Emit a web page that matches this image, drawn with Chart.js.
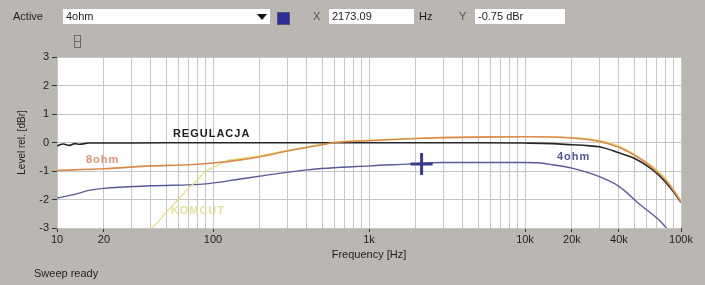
<!DOCTYPE html>
<html>
<head>
<meta charset="utf-8">
<script src="https://cdn.jsdelivr.net/npm/chart.js@4.4.1/dist/chart.umd.min.js"></script>
<style>
    html, body { margin: 0; padding: 0; }
    body {
        width: 705px; height: 285px; position: relative; overflow: hidden;
        background: #bab7b3; color: #1e1e1e;
        font-family: "Liberation Sans", Arial, sans-serif; font-size: 11px;
    }
    #freqChart { position: absolute; left: 0; top: 0; }
    .lbl { position: absolute; top: 9px; line-height: 15px; }
    .box {
        position: absolute; top: 9px; height: 15px; line-height: 15px;
        background: #fdfdfd; padding-left: 3px; box-sizing: border-box;
    }
    .arrow {
        position: absolute; left: 257px; top: 14px; width: 0; height: 0;
        border-left: 5px solid transparent; border-right: 5px solid transparent;
        border-top: 6px solid #111;
    }
    .swatch {
        position: absolute; left: 277px; top: 12px; width: 11px; height: 11px;
        background: #2d2d9c; border: 1px solid #55557a;
    }
    .icon {
        position: absolute; left: 74px; top: 35px; width: 5px; height: 11px;
        border: 1px solid #6a6a6a;
    }
    .icon::after {
        content: ""; position: absolute; left: 0; top: 5px; width: 5px; height: 1px; background: #6a6a6a;
    }
</style>
</head>
<body>
<canvas id="freqChart" width="705" height="285"></canvas>

<div class="lbl" style="left:13px">Active</div>
<div class="box" style="left:63px; width:207px">4ohm</div>
<div class="arrow"></div>
<div class="swatch"></div>
<div class="lbl" style="left:313px; color:#555">X</div>
<div class="box" style="left:329px; width:85px">2173.09</div>
<div class="lbl" style="left:419px">Hz</div>
<div class="lbl" style="left:459px; color:#555">Y</div>
<div class="box" style="left:475px; width:90px">-0.75 dBr</div>
<div class="icon"></div>
<div class="lbl" style="left:34px; top:266px">Sweep ready</div>

<script>
// REGULACJA (reference)
const blackFreq = [10, 11, 12, 13, 14, 16, 20, 50, 100, 500, 1000, 5000, 10000, 15000, 20000, 25000, 30000, 40000, 50000, 60000, 70000, 80000, 90000, 100000];
const blackLevel = [-0.12, -0.05, -0.1, -0.04, -0.06, -0.02, -0.02, -0.01, -0.01, -0.01, -0.01, -0.01, -0.02, -0.04, -0.08, -0.11, -0.15, -0.36, -0.55, -0.8, -1.08, -1.4, -1.75, -2.1];

// 8ohm
const orangeFreq = [10, 20, 40, 70, 100, 150, 200, 300, 500, 600, 1000, 2000, 3000, 5000, 10000, 20000, 30000, 40000, 50000, 60000, 70000, 80000, 90000, 100000];
const orangeLevel = [-0.98, -0.92, -0.82, -0.78, -0.72, -0.61, -0.5, -0.3, -0.08, 0.0, 0.06, 0.14, 0.17, 0.19, 0.2, 0.16, 0.04, -0.17, -0.44, -0.72, -1.02, -1.33, -1.7, -2.08];

// 4ohm
const blueFreq = [10, 13, 16, 20, 40, 90, 150, 200, 400, 1000, 1750, 3000, 10000, 12000, 15000, 20000, 30000, 40000, 55000, 74000, 85000];
const blueLevel = [-1.95, -1.82, -1.68, -1.61, -1.52, -1.45, -1.28, -1.18, -0.96, -0.82, -0.76, -0.7, -0.7, -0.71, -0.78, -0.9, -1.2, -1.54, -2.19, -2.77, -3.15];

// KOMCUT
const yellowFreq = [38, 45, 50, 60, 68, 80, 89, 100, 128, 150, 200, 300, 500, 600, 1000, 3000, 10000, 20000, 30000, 40000, 55000, 74000, 90000, 100000];
const yellowLevel = [-3.15, -2.75, -2.45, -2.0, -1.66, -1.3, -1.03, -0.88, -0.61, -0.56, -0.46, -0.27, -0.06, 0.02, 0.08, 0.18, 0.21, 0.18, 0.08, -0.12, -0.55, -1.07, -1.65, -2.05];

// cursor readout
const cursorFreq = [2173.09];
const cursorLevel = [-0.75];

// x tick labels
const xTickValues = [10, 20, 100, 1000, 10000, 20000, 40000, 100000];
const xTickNames = ["10", "20", "100", "1k", "10k", "20k", "40k", "100k"];

// curve name tags (x in Hz, y in dBr)
const curveTags = [
    { text: "REGULACJA", x: 98, y: 0.31, color: "#1e1e1e" },
    { text: "8ohm", x: 19.6, y: -0.61, color: "#e39372" },
    { text: "4ohm", x: 20500, y: -0.52, color: "#55559c" },
    { text: "KOMCUT", x: 80, y: -2.41, color: "#e4e29c" }
];

const toPoints = (xs, ys) => xs.map((f, i) => ({ x: f, y: ys[i] }));

// log grid: 1..9 in each decade
const gridValues = [];
for (let d = 10; d < 100000; d *= 10) {
    for (let m = 1; m < 10; m++) gridValues.push(d * m);
}
gridValues.push(100000);

const plotBg = {
    id: "plotBg",
    beforeDraw(chart) {
        const { ctx, chartArea: a } = chart;
        ctx.save();
        ctx.fillStyle = "#ffffff";
        ctx.fillRect(a.left, a.top, a.right - a.left, a.bottom - a.top);
        ctx.restore();
    }
};

const tags = {
    id: "tags",
    afterDatasetsDraw(chart) {
        const { ctx, scales } = chart;
        ctx.save();
        ctx.font = "bold 11px 'Liberation Sans', Arial, sans-serif";
        ctx.letterSpacing = "1px";
        ctx.textAlign = "center";
        ctx.textBaseline = "middle";
        curveTags.forEach(t => {
            ctx.fillStyle = t.color;
            ctx.fillText(t.text, scales.x.getPixelForValue(t.x), scales.y.getPixelForValue(t.y));
        });
        ctx.restore();
    }
};

const lineDefaults = { pointRadius: 0, fill: false, cubicInterpolationMode: "monotone" };

new Chart(document.getElementById("freqChart"), {
    type: "line",
    data: {
        datasets: [
            {
                label: "cursor", data: toPoints(cursorFreq, cursorLevel), showLine: false,
                pointStyle: "cross", pointRadius: 11, borderWidth: 3, borderColor: "#3a3a8e", order: 0
            },
            { ...lineDefaults, label: "REGULACJA", data: toPoints(blackFreq, blackLevel), borderColor: "#262626", borderWidth: 1.6, order: 2 },
            { ...lineDefaults, label: "8ohm", data: toPoints(orangeFreq, orangeLevel), borderColor: "#d98a4c", borderWidth: 1.6, order: 1 },
            { ...lineDefaults, label: "KOMCUT", data: toPoints(yellowFreq, yellowLevel), borderColor: "#e6df7c", borderWidth: 1.2, order: 3 },
            { ...lineDefaults, label: "4ohm", data: toPoints(blueFreq, blueLevel), borderColor: "#5a5a98", borderWidth: 1.4, order: 4 }
        ]
    },
    options: {
        responsive: false,
        devicePixelRatio: 1,
        animation: false,
        layout: { padding: { top: 57, right: 24, left: 0, bottom: 0 } },
        plugins: { legend: { display: false }, tooltip: { enabled: false } },
        scales: {
            x: {
                type: "logarithmic",
                min: 10,
                max: 100000,
                afterBuildTicks: scale => { scale.ticks = gridValues.map(v => ({ value: v })); },
                afterFit: scale => { scale.height = 57; },
                border: { display: false },
                grid: {
                    color: "#c6c6c6",
                    tickLength: 4,
                    tickColor: ctx => xTickValues.includes(ctx.tick.value) ? "#333" : "rgba(0,0,0,0)"
                },
                ticks: {
                    autoSkip: false,
                    maxRotation: 0,
                    padding: 1,
                    color: "#1e1e1e",
                    font: { family: "'Liberation Sans', Arial, sans-serif", size: 11 },
                    callback: v => {
                        const i = xTickValues.indexOf(v);
                        return i >= 0 ? xTickNames[i] : "";
                    }
                },
                title: {
                    display: true,
                    text: "Frequency [Hz]",
                    color: "#1e1e1e",
                    font: { family: "'Liberation Sans', Arial, sans-serif", size: 11 },
                    padding: { top: 0, bottom: 23 }
                }
            },
            y: {
                min: -3,
                max: 3,
                afterFit: scale => { scale.width = 57; },
                border: { display: false },
                grid: { color: "#c6c6c6", tickLength: 5, tickColor: "#333" },
                ticks: {
                    stepSize: 1,
                    padding: 3,
                    color: "#1e1e1e",
                    font: { family: "'Liberation Sans', Arial, sans-serif", size: 11 }
                },
                title: {
                    display: true,
                    text: "Level rel. [dBr]",
                    color: "#1e1e1e",
                    font: { family: "'Liberation Sans', Arial, sans-serif", size: 10 },
                    padding: { top: 16, bottom: 0 }
                }
            }
        }
    },
    plugins: [plotBg, tags]
});
</script>
</body>
</html>
